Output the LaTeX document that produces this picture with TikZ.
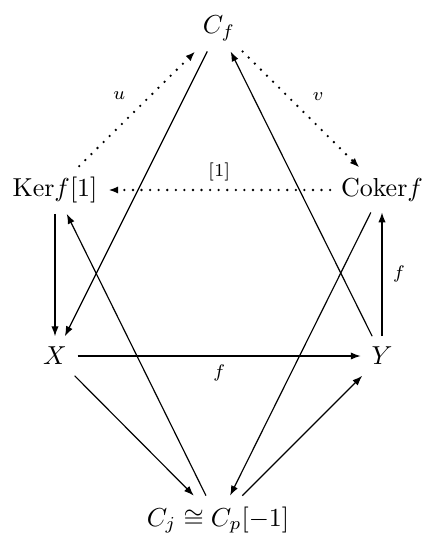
\documentclass[tikz,border=0pt]{standalone}
\usetikzlibrary{arrows.meta,positioning}
\begin{document}
\begin{tikzpicture}[x=0.385pt,y=-0.385pt,
  obj/.style={inner sep=4pt},
  arr/.style={-{Latex[length=3.8pt,width=2.8pt]},line width=0.45pt},
  dotarr/.style={-{Latex[length=3.8pt,width=2.8pt]},line width=1pt,line cap=round,dash pattern=on 0pt off 3.3pt},
  lbl/.style={font=\scriptsize,inner sep=2pt}]
\useasboundingbox (0,0) rectangle (428,534);
\node[obj] (Cf) at (219,28) {$C_f$};
\node[obj] (Ker) at (55,190) {$\mathrm{Ker}f[1]$};
\node[obj] (Coker) at (382,190) {$\mathrm{Coker}f$};
\node[obj] (X) at (55,356) {$X$};
\node[obj] (Y) at (382,356) {$Y$};
\node[obj] (Cj) at (218,520) {$C_j\cong C_p[-1]$};
% dotted
\draw[dotarr] (Ker) -- node[lbl,above left=1pt and 2pt] {$u$} (Cf);
\draw[dotarr] (Cf) -- node[lbl,above right=1pt and 2pt] {$v$} (Coker);
\draw[dotarr] (Coker) -- node[lbl,above=1pt] {$[1]$} (Ker);
% solid
\draw[arr] (Cf) -- (X);
\draw[arr] (Y) -- (Cf);
\draw[arr] (Ker) -- (X);
\draw[arr] (Y) -- node[lbl,right=2pt] {$f$} (Coker);
\draw[arr] (X) -- node[lbl,below=1pt] {$f$} (Y);
\draw[arr] (X) -- (Cj);
\draw[arr] (Cj) -- (Y);
\draw[arr] (Cj) -- (Ker);
\draw[arr] (Coker) -- (Cj);
\end{tikzpicture}
\end{document}
